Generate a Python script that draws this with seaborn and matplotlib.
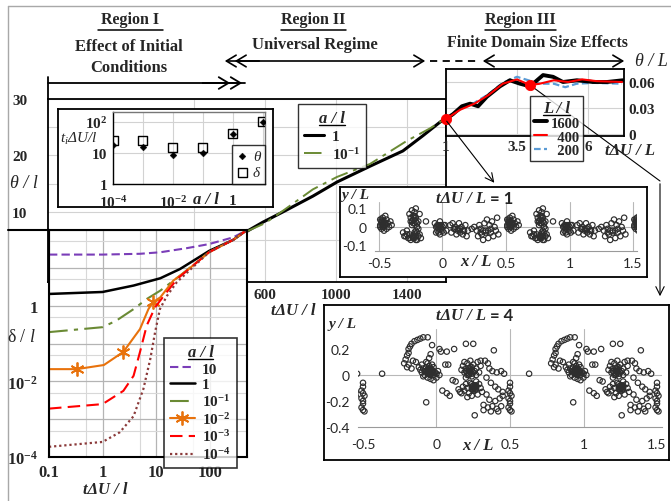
import matplotlib
matplotlib.use('Agg')
import matplotlib.pyplot as plt
import seaborn as sns
from matplotlib.lines import Line2D
from matplotlib.patches import FancyArrowPatch

# ---------------- data ----------------
# main panel, theta/l against t dU/l (linear)
main_t_black = [500, 589, 701, 870, 1006, 1192, 1377, 1490, 1586, 1614]
main_theta_black = [6.6, 8.2, 10.0, 12.8, 15.3, 18.1, 20.8, 23.5, 25.9, 26.5]
main_t_olive = [500, 600, 701, 870, 1006, 1192, 1400, 1530, 1614]
main_theta_olive = [6.6, 8.0, 10.2, 14.0, 16.2, 18.5, 22.6, 24.8, 26.5]

# lower-left panel, delta/l against t dU/l (log-log), one pair per a/l
t_a10 = [0.1, 1, 5, 12, 37, 98, 277, 500]
d_a10 = [22.4, 22.4, 23.5, 25.8, 33, 42.5, 64, 100]
t_a1 = [0.1, 1, 3.8, 12, 28, 98, 277, 500]
d_a1 = [2.04, 2.3, 3.4, 5.3, 9.3, 28, 55, 100]
t_a01 = [0.1, 1, 1.8, 3.8, 6.7, 12, 28, 98, 277, 500]
d_a01 = [0.2, 0.27, 0.4, 0.81, 1.5, 2.5, 6.2, 26, 55, 100]
t_a001 = [0.1, 0.33, 1.06, 2.45, 5, 7.2, 8.7, 12, 21, 37, 98, 277, 500]
d_a001 = [0.021, 0.021, 0.027, 0.06, 0.24, 0.81, 1.23, 1.66, 4.6, 8.3, 26, 55, 100]
t_a0001 = [0.1, 1, 2.45, 3.8, 5, 6.7, 9.6, 13.9, 24.5, 98, 277, 500]
d_a0001 = [0.0019, 0.0025, 0.0056, 0.014, 0.059, 0.3, 0.91, 1.8, 5, 26, 55, 100]
t_a00001 = [0.1, 1, 2.1, 3.8, 5.8, 7.8, 9.6, 11.8, 15.9, 24.5, 98, 277, 500]
d_a00001 = [1.86e-4, 2.5e-4, 4.5e-4, 0.0012, 0.0063, 0.039, 0.2, 0.81, 1.8, 4.2, 26, 55, 100]

# top-left inset, t_i dU/l against a/l
inset_a = [1e-4, 1e-3, 1e-2, 1e-1, 1, 10]
inset_ti_theta = [18, 15.6, 8.6, 10, 41, 100]
inset_ti_delta = [26, 26, 14.5, 14.5, 41, 100]

# top-right inset, theta/L against t dU/L for three L/l
tr_t1600 = [1, 1.25, 1.56, 1.85, 2.13, 2.44, 2.9, 3.25, 3.61, 3.96, 4.42, 4.77, 5.12, 5.61, 6.18, 6.67, 7.23]
tr_th1600 = [0.0173, 0.023, 0.032, 0.035, 0.032, 0.043, 0.055, 0.062, 0.058, 0.055, 0.068, 0.066, 0.06, 0.062, 0.06, 0.06, 0.062]
tr_t400 = [1, 1.5, 2.0, 2.5, 3.0, 3.5, 3.96, 4.3, 4.8, 5.3, 5.8, 6.3, 7.2]
tr_th400 = [0.0173, 0.028, 0.035, 0.045, 0.058, 0.063, 0.0565, 0.058, 0.062, 0.06, 0.063, 0.061, 0.06]
tr_t200 = [1, 1.5, 2.0, 2.5, 3.0, 3.5, 3.9, 4.3, 4.8, 5.2, 5.6, 6.2, 7.2]
tr_th200 = [0.0173, 0.029, 0.036, 0.046, 0.059, 0.066, 0.062, 0.058, 0.058, 0.054, 0.058, 0.059, 0.058]
dot_t = [1, 3.96]
dot_theta = [0.0173, 0.0565]

# vortex positions at t dU/L = 1, one period (domain repeats every x/L = 1)
s1_x = [-0.49, -0.48, -0.47, -0.46, -0.47, -0.45, -0.44, -0.48, -0.46, -0.43, -0.42, -0.41, -0.44, -0.40, -0.45, -0.49,
        -0.48, -0.47, -0.46, -0.49, -0.47, -0.45, -0.48, -0.46,
        -0.26, -0.24, -0.22, -0.25, -0.23, -0.21, -0.22, -0.24, -0.20, -0.19, -0.18, -0.21,
        -0.23, -0.22, -0.24, -0.21, -0.23, -0.22, -0.20, -0.25,
        -0.31, -0.29, -0.28, -0.26, -0.25, -0.23, -0.22, -0.21, -0.20, -0.18, -0.17, -0.19, -0.27, -0.30,
        -0.22, -0.21, -0.23, -0.20, -0.22, -0.19, -0.21, -0.24, -0.26, -0.28,
        -0.13, -0.06, -0.05, -0.04, -0.03, -0.02, -0.01, 0.0, 0.01, 0.02, -0.05, 0.03, -0.02,
        -0.04, -0.03, -0.01, 0.0, -0.02, 0.01, -0.04, -0.03,
        0.06, 0.08, 0.09, 0.10, 0.12, 0.13, 0.14, 0.15, 0.16, 0.17, 0.18, 0.19, 0.11, 0.20, 0.07,
        0.10, 0.12, 0.14, 0.16,
        0.23, 0.25, 0.27, 0.28, 0.30, 0.31, 0.33, 0.34, 0.35, 0.36, 0.37, 0.38, 0.39, 0.40, 0.41, 0.42, 0.43, 0.44, 0.32, 0.29,
        0.30, 0.32, 0.34, 0.36, 0.38]
s1_y = [0.04, 0.02, 0.05, 0.03, 0.0, 0.01, 0.04, -0.01, -0.02, 0.02, 0.0, 0.03, -0.01, 0.01, 0.06, 0.0,
        0.03, 0.01, 0.02, 0.01, 0.03, 0.02, 0.04, 0.0,
        0.07, 0.09, 0.08, 0.05, 0.04, 0.05, 0.02, 0.01, 0.0, 0.03, 0.07, 0.1,
        0.06, 0.05, 0.03, 0.03, 0.02, 0.06, 0.02, 0.03,
        -0.03, -0.05, -0.02, -0.04, -0.07, -0.06, -0.03, -0.05, -0.07, -0.04, -0.06, -0.01, -0.06, -0.05,
        -0.04, -0.02, -0.05, -0.03, -0.06, -0.05, -0.07, -0.05, -0.06, -0.04,
        0.03, 0.02, 0.0, -0.02, 0.01, 0.03, -0.01, 0.0, -0.03, 0.01, -0.03, -0.02, -0.04,
        0.01, -0.01, 0.01, -0.02, 0.0, 0.01, 0.0, -0.03,
        0.01, 0.02, -0.01, 0.0, -0.02, 0.02, -0.03, 0.0, -0.04, -0.02, 0.01, -0.05, -0.04, -0.02, -0.03,
        -0.01, -0.01, -0.01, -0.02,
        -0.01, 0.0, -0.02, -0.05, -0.01, -0.04, 0.02, -0.02, 0.04, -0.06, 0.01, -0.03, 0.03, -0.05, 0.0, -0.02, 0.05, -0.04, -0.07, 0.01,
        -0.03, -0.02, -0.03, -0.02, -0.01]

# vortex positions at t dU/L = 4, one period
s4_x = [-0.22, -0.21, -0.20, -0.19, -0.19, -0.18, -0.17, -0.15, -0.13, -0.11, -0.09, -0.06, -0.20, -0.19, -0.16, -0.14, -0.17,
        -0.12, -0.10, -0.11, -0.09, -0.08, -0.07, -0.06, -0.05, -0.04, -0.03, -0.02, -0.01, 0.0, 0.01, 0.02, -0.08, -0.06,
        -0.04, -0.02, -0.05, -0.10, -0.03, 0.0, -0.07, -0.05, -0.04, -0.06, -0.02, -0.09,
        -0.07, -0.06, -0.05, -0.04, -0.03, -0.05, -0.04, -0.06, -0.03, -0.02, -0.05, -0.04,
        -0.37, -0.07, -0.03, 0.02, 0.03, 0.06, 0.08, 0.07, 0.12, 0.04, 0.07, 0.09, 0.11, 0.13, 0.15, 0.16,
        0.17, 0.18, 0.19, 0.20, 0.21, 0.22, 0.22, 0.23, 0.24, 0.25, 0.26, 0.27, 0.28, 0.29, 0.30, 0.20, 0.24, 0.19, 0.23, 0.27,
        0.21, 0.22, 0.23, 0.24, 0.20, 0.21, 0.22, 0.23, 0.25, 0.24,
        0.18, 0.19, 0.20, 0.21, 0.22, 0.23, 0.24, 0.25, 0.26, 0.27, 0.28, 0.29, 0.30, 0.24, 0.21, 0.27, 0.31, 0.17,
        0.24, 0.25, 0.26, 0.25, 0.26, 0.27, 0.24, 0.26, 0.25, 0.27,
        0.20, 0.25, 0.30, 0.33, 0.35, 0.39, 0.36, 0.38, 0.41, 0.44, 0.46, 0.34, 0.37, 0.40, 0.42, 0.45, 0.43, 0.45, 0.40,
        0.38, 0.35, 0.32, 0.26, 0.32, 0.37, 0.41, 0.44, 0.42, 0.34, 0.36,
        0.50, 0.50, 0.49, 0.50, 0.51, 0.49, 0.50, 0.50, 0.49, 0.50, 0.51]
s4_y = [0.09, 0.12, 0.15, 0.17, 0.20, 0.22, 0.24, 0.26, 0.27, 0.28, 0.29, 0.29, 0.06, 0.08, 0.11, 0.10, 0.05,
        0.06, 0.08, 0.04, 0.05, 0.03, 0.06, 0.02, 0.04, 0.01, 0.03, 0.0, 0.02, 0.01, 0.03, 0.0, 0.0, -0.02,
        -0.03, -0.04, 0.07, 0.02, 0.08, -0.02, 0.10, 0.13, 0.16, 0.09, 0.06, -0.01,
        0.03, 0.04, 0.02, 0.03, 0.02, 0.05, 0.0, 0.01, 0.04, 0.02, 0.01, 0.05,
        0.01, -0.21, 0.23, 0.20, 0.18, 0.08, 0.08, 0.18, 0.20, -0.12, -0.14, -0.16, -0.04, -0.05, -0.11, -0.13,
        0.04, 0.07, 0.02, 0.05, 0.09, 0.0, 0.03, 0.06, 0.01, 0.08, 0.03, 0.05, 0.10, 0.02, 0.07, -0.02, -0.01, 0.10, 0.11, 0.0,
        0.02, 0.01, 0.02, 0.04, 0.03, 0.0, 0.05, 0.03, 0.02, 0.06,
        -0.09, -0.12, -0.07, -0.10, -0.14, -0.06, -0.09, -0.12, -0.08, -0.11, -0.15, -0.07, -0.10, -0.16, -0.17, -0.05, -0.13, -0.14,
        -0.07, -0.08, -0.10, -0.11, -0.09, -0.08, -0.11, -0.12, -0.10, -0.09,
        0.24, 0.24, 0.11, 0.11, 0.09, 0.19, 0.05, 0.03, 0.02, 0.03, 0.01, -0.02, -0.06, -0.09, -0.11, -0.13, -0.18, -0.16, -0.20,
        -0.24, -0.25, -0.23, -0.31, -0.27, -0.28, -0.26, -0.24, -0.28, -0.15, -0.19,
        -0.06, -0.09, -0.12, -0.14, -0.16, -0.18, -0.20, -0.22, -0.25, -0.27, -0.28]

# ---------------- style ----------------
sns.set_style('white')
plt.rcParams['font.family'] = ['Liberation Serif', 'DejaVu Serif']
plt.rcParams['mathtext.fontset'] = 'custom'
plt.rcParams['mathtext.rm'] = 'Liberation Serif'
plt.rcParams['mathtext.it'] = 'Liberation Serif:italic'
plt.rcParams['mathtext.bf'] = 'Liberation Serif:bold'
plt.rcParams['mathtext.default'] = 'bf'
plt.rcParams['axes.unicode_minus'] = False

W, H = 671, 502
fig = plt.figure(figsize=(W / 100, H / 100), dpi=100)
fig.patch.set_facecolor('white')


def rect(x0, y0, x1, y1):
    return [x0 / W, 1 - y1 / H, (x1 - x0) / W, (y1 - y0) / H]


def fxy(x, y):
    return (x / W, 1 - y / H)


def ftext(x, y, s, **kw):
    kw.setdefault('ha', 'center')
    kw.setdefault('va', 'center')
    fig.text(x / W, 1 - y / H, s, **kw)


def fline(xs, ys, **kw):
    fig.add_artist(Line2D([x / W for x in xs], [1 - y / H for y in ys],
                          transform=fig.transFigure, **kw))


def farrow(x0, y0, x1, y1, style='->', lw=1.2, ms=14, z=20):
    fig.add_artist(FancyArrowPatch(fxy(x0, y0), fxy(x1, y1), transform=fig.transFigure,
                                   arrowstyle=style, mutation_scale=ms, lw=lw, color='black', zorder=z))


def frame_box(r, z):
    b = fig.add_axes(r, zorder=z)
    b.set_xticks([])
    b.set_yticks([])
    b.set_facecolor('white')
    for s in b.spines.values():
        s.set_color('black')
        s.set_linewidth(1.3)
    return b


def bold_ticks(a, size=11):
    for lab in a.get_xticklabels() + a.get_yticklabels():
        lab.set_fontweight('bold')
        lab.set_fontsize(size)


def style_last(a, ls='-', **kw):
    # seaborn sometimes overrides the dash pattern, so set it on the line itself
    ln = a.lines[-1]
    ln.set_linestyle(ls)
    for k, v in kw.items():
        getattr(ln, 'set_' + k)(v)


# outer page frame
fline([8, 8], [7, 502], color='#a8a8a8', lw=1)
fline([8, 671], [7, 7], color='#a8a8a8', lw=1)

# ---------------- main panel ----------------
ax = fig.add_axes(rect(48, 100, 446, 283), zorder=0)
ax.set_facecolor('white')
sns.lineplot(x=main_t_black, y=main_theta_black, ax=ax, color='black', lw=2.2,
             estimator=None, errorbar=None, label='1')
style_last(ax, '-')
sns.lineplot(x=main_t_olive, y=main_theta_olive, ax=ax, color='#6A8A34', lw=1.4,
             estimator=None, errorbar=None, label='10$^{-1}$')
style_last(ax, (0, (9, 3, 2, 3)))
ax.set_xlim(-622, 1620)
ax.set_ylim(-2.4, 30)
ax.set_xticks([600, 1000, 1400])
ax.set_xticks([200], minor=True)
ax.set_yticks([10, 20, 30])
ax.set_yticks([5, 15, 25], minor=True)
ax.grid(which='both', color='#d2d2d2', lw=0.8)
ax.tick_params(which='both', length=0)
ax.tick_params(axis='y', pad=15)
ax.tick_params(axis='x', pad=4)
bold_ticks(ax, 11)
for s in ax.spines.values():
    s.set_color('black')
    s.set_linewidth(1.3)
ax.set_xlabel('')
ax.set_ylabel('')
leg_main = ax.legend(loc='upper left', bbox_to_anchor=fxy(298, 105), bbox_transform=fig.transFigure,
                     title='a / l', frameon=True, fancybox=False, edgecolor='black', borderaxespad=0,
                     handlelength=1.3, handletextpad=0.5, borderpad=0.4, labelspacing=0.2,
                     prop={'weight': 'bold', 'size': 11})
leg_main.get_title().set_fontstyle('italic')
leg_main.get_title().set_fontweight('bold')
leg_main.get_title().set_fontsize(12)
leg_main.get_frame().set_linewidth(1.0)
ftext(24, 184, 'θ / l', fontsize=13, style='italic')
ftext(293, 311, 'tΔU / l', fontsize=12, style='italic', fontweight='bold')
fline([48, 48], [78, 100], color='black', lw=1.3)

# ---------------- top-left inset ----------------
frame_box(rect(58, 110, 273, 208), 1)
ix = fig.add_axes(rect(113, 113, 265, 185), zorder=1.5)
sns.scatterplot(x=inset_a, y=inset_ti_delta, ax=ix, marker='s', s=42, facecolor='none',
                edgecolor='black', linewidth=1.0, label='δ', zorder=3)
sns.scatterplot(x=inset_a, y=inset_ti_theta, ax=ix, marker='D', s=12, color='black',
                edgecolor='black', label='θ', zorder=4)
ix.set_xscale('log')
ix.set_yscale('log')
ix.set_xlim(1e-4, 12)
ix.set_ylim(1, 210)
ix.set_xticks([1e-4, 1e-3, 1e-2, 1e-1, 1, 10])
ix.set_xticklabels(['10$^{-4}$', '', '10$^{-2}$', '', '1', ''])
ix.set_yticks([1, 10, 100])
ix.set_yticklabels(['1', '10', '10$^{2}$'])
ix.minorticks_off()
ix.grid(which='major', color='#d2d2d2', lw=0.8)
ix.tick_params(length=0)
ix.tick_params(axis='x', pad=7)
ix.tick_params(axis='y', pad=4)
bold_ticks(ix, 11)
for k, s in ix.spines.items():
    s.set_color('black' if k in ('left', 'bottom') else '#777777')
    s.set_linewidth(1.0)
h, l = ix.get_legend_handles_labels()
leg_ix = ix.legend(h[::-1], l[::-1], loc='lower right', borderaxespad=0, frameon=True, fancybox=False,
                   edgecolor='black', handlelength=0.8, handletextpad=0.3, borderpad=0.3,
                   labelspacing=0.15, prop={'style': 'italic', 'size': 11})
leg_ix.get_frame().set_linewidth(1.0)
ix.set_xlabel('')
ix.set_ylabel('')
ftext(206, 200, 'a / l', fontsize=12, style='italic', fontweight='bold')
ftext(79, 139, 't$_\\mathit{i}$ΔU/l', fontsize=11, style='italic')

# ---------------- top-right inset ----------------
rx = fig.add_axes(rect(446, 70, 624, 137), zorder=1)
sns.lineplot(x=tr_t200, y=tr_th200, ax=rx, color='#5B9BD5', lw=1.6,
             estimator=None, errorbar=None, label='  200', zorder=3)
style_last(rx, (0, (3, 1.5)))
sns.lineplot(x=tr_t400, y=tr_th400, ax=rx, color='red', lw=1.5, estimator=None, errorbar=None,
             label='  400', zorder=3.2)
style_last(rx, '-')
sns.lineplot(x=tr_t1600, y=tr_th1600, ax=rx, color='black', lw=2.8, estimator=None, errorbar=None,
             label='1600', zorder=3.1)
style_last(rx, '-')
sns.scatterplot(x=dot_t, y=dot_theta, ax=rx, color='red', s=55, edgecolor='red', zorder=6,
                clip_on=False, legend=False)
rx.set_xlim(1, 7.27)
rx.set_ylim(-0.0023, 0.075)
rx.set_xticks([1, 3.5, 6])
rx.set_xticklabels(['1', '3.5', '6'])
rx.set_yticks([0, 0.03, 0.06])
rx.set_yticklabels(['0', '0.03', '0.06'])
rx.yaxis.tick_right()
rx.grid(color='#d2d2d2', lw=0.8)
rx.tick_params(length=0, pad=3)
bold_ticks(rx, 11)
for s in rx.spines.values():
    s.set_color('black')
    s.set_linewidth(1.3)
rx.set_xlabel('')
rx.set_ylabel('')
# connector from the t dU/L = 4 dot towards the lower scatter panel (under the legend)
rx.add_line(Line2D([530 / W, 660 / W], [1 - 86 / H, 1 - 182 / H], transform=fig.transFigure,
                   color='black', lw=0.8, clip_on=False, zorder=4))
h, l = rx.get_legend_handles_labels()
leg_rx = rx.legend(h[::-1], l[::-1], loc='upper left', bbox_to_anchor=fxy(530, 97),
                   bbox_transform=fig.transFigure, title='L / l', frameon=True, fancybox=False,
                   edgecolor='black', borderaxespad=0, handlelength=0.9, handletextpad=0.25,
                   borderpad=0.25, labelspacing=0.05, prop={'weight': 'bold', 'size': 10.5})
leg_rx.get_title().set_fontstyle('italic')
leg_rx.get_title().set_fontweight('bold')
leg_rx.get_title().set_fontsize(12)
leg_rx.get_frame().set_linewidth(1.0)
leg_rx.set_zorder(10)
ftext(651, 62, 'θ / L', fontsize=13, style='italic')
ftext(630, 151, 'tΔU / L', fontsize=12, style='italic', fontweight='bold')
farrow(660, 182, 660, 300, style='->,head_length=0.5,head_width=0.25', lw=0.8, ms=12)
farrow(445, 120, 496, 186, style='->,head_length=0.5,head_width=0.25', lw=0.8, ms=12)

# ---------------- lower-left log-log panel ----------------
lx = fig.add_axes(rect(49, 231, 247, 458), zorder=1)
sns.lineplot(x=t_a10, y=d_a10, ax=lx, color='#7A3DB8', lw=1.5, estimator=None, errorbar=None, label='10')
style_last(lx, (0, (4, 2)))
sns.lineplot(x=t_a1, y=d_a1, ax=lx, color='black', lw=1.8, estimator=None, errorbar=None, label='1')
style_last(lx, '-')
sns.lineplot(x=t_a01, y=d_a01, ax=lx, color='#6A8A34', lw=1.5, estimator=None, errorbar=None,
             label='10$^{-1}$')
style_last(lx, (0, (9, 3, 2, 3)))
sns.lineplot(x=t_a001, y=d_a001, ax=lx, color='#E8720C', lw=1.5, estimator=None, errorbar=None,
             label='10$^{-2}$')
style_last(lx, '-', marker=(6, 2, 0), markersize=10, markeredgewidth=1.3, markevery=[1, 3, 6],
           markeredgecolor='#E8720C')
sns.lineplot(x=t_a0001, y=d_a0001, ax=lx, color='red', lw=1.5, estimator=None, errorbar=None,
             label='10$^{-3}$')
style_last(lx, (0, (6, 3)))
sns.lineplot(x=t_a00001, y=d_a00001, ax=lx, color='#8B3A3A', lw=1.6, estimator=None, errorbar=None,
             label='10$^{-4}$')
style_last(lx, (0, (1, 1.3)))
lx.set_xscale('log')
lx.set_yscale('log')
lx.set_xlim(0.1, 500)
lx.set_ylim(1e-4, 100)
lx.set_xticks([0.1, 1, 10, 100])
lx.set_xticklabels(['0.1', '1', '10', '100'])
lx.set_xticks([0.5, 5, 50], minor=True)
lx.set_xticklabels(['', '', ''], minor=True)
lx.set_yticks([1e-4, 1e-3, 1e-2, 1e-1, 1, 10, 100])
lx.set_yticklabels(['10$^{-4}$', '', '10$^{-2}$', '', '1', '', ''])
lx.set_yticks([5e-4, 5e-3, 5e-2, 0.5, 5, 50], minor=True)
lx.set_yticklabels([''] * 6, minor=True)
lx.grid(which='major', color='#b4b4b4', lw=0.9)
lx.grid(which='minor', color='#d8d8d8', lw=0.8)
lx.tick_params(which='both', length=0)
lx.tick_params(axis='y', pad=8)
lx.tick_params(axis='x', pad=5)
bold_ticks(lx, 12)
for s in lx.spines.values():
    s.set_color('black')
    s.set_linewidth(1.5)
lx.set_xlabel('')
lx.set_ylabel('')
leg_lx = lx.legend(loc='upper left', bbox_to_anchor=fxy(164, 339), bbox_transform=fig.transFigure,
                   title='a / l', frameon=True, fancybox=False, edgecolor='black', borderaxespad=0,
                   handlelength=1.6, handletextpad=0.5, borderpad=0.4, labelspacing=0.12,
                   prop={'weight': 'bold', 'size': 11})
leg_lx.get_title().set_fontstyle('italic')
leg_lx.get_title().set_fontweight('bold')
leg_lx.get_title().set_fontsize(12)
leg_lx.get_frame().set_linewidth(1.2)
fline([8, 49], [231, 231], color='black', lw=1.5)
ftext(22, 338, 'δ / $\\mathit{l}$', fontsize=13)
ftext(105, 490, 'tΔU / l', fontsize=12, style='italic', fontweight='bold')

# ---------------- scatter panels ----------------
SANS = ['Lato', 'DejaVu Sans']


def scatter_panel(box, inner, xs, ys, shifts, xlim, ylim, yticks, ylabels, vlines, title_y, lab_xy, ylab_xy,
                  tval, pad_x):
    frame_box(rect(*box), 3)
    a = fig.add_axes(rect(*inner), zorder=3.5)
    px, py = [], []
    for sh in shifts:  # periodic copies of the one-period point set
        px += [x + sh for x in xs]
        py += ys
    sns.scatterplot(x=px, y=py, ax=a, marker='o', s=15, facecolor='none', edgecolor='#2e2e2e',
                    linewidth=0.85, legend=False, zorder=3)
    for v in vlines:
        a.axvline(v, color='#b8b8b8', lw=0.8, zorder=1)
    a.axhline(0, color='#b8b8b8', lw=0.8, zorder=1)
    a.set_xlim(*xlim)
    a.set_ylim(*ylim)
    a.set_xticks([-0.5, 0, 0.5, 1, 1.5])
    a.set_xticklabels(['-0.5', '0', '0.5', '1', '1.5'])
    a.set_yticks(yticks)
    a.set_yticklabels(ylabels)
    a.tick_params(length=0, labelsize=10, colors='#262626')
    a.tick_params(axis='x', pad=pad_x)
    a.tick_params(axis='y', pad=6)
    for lab in a.get_xticklabels() + a.get_yticklabels():
        lab.set_fontfamily(SANS)
    for k, s in a.spines.items():
        s.set_visible(k == 'bottom')
        s.set_color('#9a9a9a')
    a.set_facecolor('white')
    a.set_xlabel('')
    a.set_ylabel('')
    cx = 490
    ftext(cx, title_y, 'tΔU / L ', fontsize=12, style='italic', fontweight='bold', ha='right', zorder=30)
    ftext(cx, title_y, '= ' + tval, fontsize=12, fontweight='bold', family=SANS, ha='left', zorder=30)
    ftext(lab_xy[0], lab_xy[1], 'x / L', fontsize=12, style='italic', fontweight='bold', zorder=30)
    ftext(ylab_xy[0], ylab_xy[1], 'y / L', fontsize=11, style='italic', fontweight='bold', zorder=30)
    return a


scatter_panel((340, 188, 647, 278), (375, 203, 637, 252), s1_x, s1_y, [0, 1, 2],
              (-0.531, 1.531), (-0.13, 0.135), [-0.1, 0, 0.1], ['-0.1', '0', '0.1'],
              [-0.5, 0, 0.5, 1, 1.5], 199, (476, 262), (356, 196), '1', 4)
scatter_panel((324, 306, 669, 461), (358, 330, 662, 428), s4_x, s4_y, [-1, 0, 1],
              (-0.534, 1.534), (-0.4, 0.354), [-0.4, -0.2, 0, 0.2], ['-0.4', '-0.2', '0', '0.2'],
              [0, 0.5, 1], 316, (478, 446), (343, 325), '4', 8)

# ---------------- region headings and arrows ----------------
for cx, txt, x0, x1 in [(130, 'Region I', 98, 163), (313, 'Region II', 281, 346), (520, 'Region III', 485, 556)]:
    ftext(cx, 20, txt, fontsize=11.5, fontweight='bold')
    fline([x0, x1], [31, 31], color='black', lw=1.1)
ftext(129, 47, 'Effect of Initial', fontsize=12, fontweight='bold')
ftext(129, 68, 'Conditions', fontsize=12, fontweight='bold')
ftext(315, 45, 'Universal Regime', fontsize=12, fontweight='bold')
ftext(537, 43, 'Finite Domain Size Effects', fontsize=11.5, fontweight='bold')

hs = '->,head_length=0.5,head_width=0.3'
farrow(222, 62, 428, 62, style='<->,head_length=0.5,head_width=0.3', lw=1.2)
farrow(262, 62, 232, 62, style=hs, lw=1.2)
fline([430, 478], [62, 62], color='black', lw=1.3, linestyle=(0, (4, 3)))
farrow(480, 62, 627, 62, style='<->,head_length=0.5,head_width=0.3', lw=1.2)
fline([48, 245], [84, 84], color='black', lw=1.3)
farrow(200, 84, 245, 84, style=hs, lw=1.3)
farrow(200, 84, 233, 84, style=hs, lw=1.3)

# underline the legend titles
fig.canvas.draw()
rend = fig.canvas.get_renderer()
for lg in [leg_main, leg_lx, leg_rx]:
    bb = lg.get_title().get_window_extent(rend)
    fig.add_artist(Line2D([bb.x0 / W, bb.x1 / W], [(bb.y0 + 1) / H] * 2, transform=fig.transFigure,
                          color='black', lw=1.0, zorder=40))

fig.savefig('out.png', dpi=100)
